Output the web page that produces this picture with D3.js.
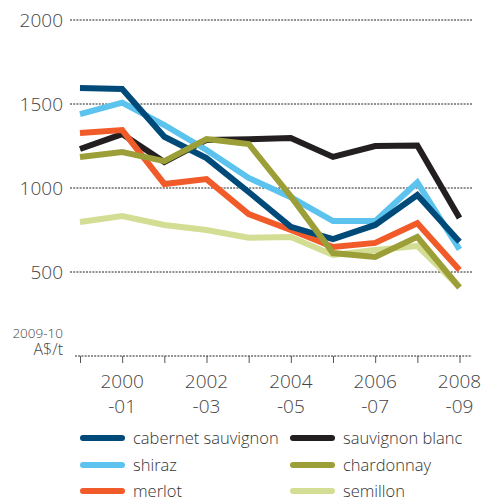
<!DOCTYPE html>
<html><head><meta charset="utf-8">
<script src="https://cdn.jsdelivr.net/npm/d3@7"></script>
<style>body{margin:0;background:#fff}svg{display:block}text{font-family:"Open Sans",sans-serif;font-weight:300;}</style>
</head><body>
<svg id="c" width="484" height="501"></svg>
<script>
const years = ["1999-00","2000-01","2001-02","2002-03","2003-04","2004-05","2005-06","2006-07","2007-08","2008-09"];
const xTickLabels = [["2000","-01"],["2002","-03"],["2004","-05"],["2006","-07"],["2008","-09"]];
const yTicks = [500,1000,1500,2000];
const cabernet = [1595,1589,1305,1178,976,769,696,780,958,680];
const shiraz = [1440,1508,1375,1226,1060,945,803,803,1033,635];
const merlot = [1327,1345,1024,1053,845,750,649,673,790,512];
const sauvBlanc = [1232,1321,1155,1286,1290,1297,1185,1250,1253,821];
const chardonnay = [1184,1214,1160,1291,1262,950,613,589,709,408];
const semillon = [798,833,780,750,704,708,601,631,655,410];
const seriesNames = ["cabernet sauvignon","shiraz","merlot","sauvignon blanc","chardonnay","semillon"];
const seriesValues = [cabernet,shiraz,merlot,sauvBlanc,chardonnay,semillon];
const colors = ["#004a7a","#5bc3ee","#f15a29","#231f20","#9c9f38","#d4dd94"];
const drawOrder = [5,3,2,1,0,4];

const svg = d3.select("#c");
const x = d3.scalePoint().domain(years).range([80,459.5]);
const y = d3.scaleLinear().domain([0,2000]).range([356,20]);

// gridlines
svg.append("g").selectAll("line").data(yTicks).join("line")
  .attr("x1",70).attr("x2",473).attr("y1",d=>y(d)).attr("y2",d=>y(d))
  .attr("stroke","#222").attr("stroke-width",1).attr("stroke-dasharray","2,1.2");
// y labels
svg.append("g").selectAll("text").data(yTicks).join("text")
  .attr("x",63).attr("y",d=>y(d)).attr("dy","0.36em").attr("text-anchor","end")
  .attr("font-size",19).attr("fill","#444").text(d=>d);

// bottom axis
const xAxis = d3.axisBottom(x).tickSize(7).tickFormat("");
const gx = svg.append("g").attr("transform","translate(0,356)").call(xAxis);
gx.select(".domain").remove();
gx.selectAll(".tick line").attr("stroke","#555").attr("stroke-width",1);
svg.append("line").attr("x1",75).attr("x2",472).attr("y1",356).attr("y2",356)
  .attr("stroke","#222").attr("stroke-width",1).attr("stroke-dasharray","2,1.2");

const labYears = years.filter((d,i)=>i%2===1);
const xl = svg.append("g").selectAll("text").data(labYears).join("text")
  .attr("text-anchor","middle").attr("font-size",19).attr("fill","#444");
xl.append("tspan").attr("x",d=>x(d)).attr("y",388).text((d,i)=>xTickLabels[i][0]);
xl.append("tspan").attr("x",d=>x(d)).attr("y",413).text((d,i)=>xTickLabels[i][1]);

// unit label
svg.append("text").attr("x",63).attr("y",338).attr("text-anchor","end").attr("font-size",13.5).attr("fill","#444").text("2009-10");
svg.append("text").attr("x",63).attr("y",355).attr("text-anchor","end").attr("font-size",16).attr("fill","#444").text("A$/t");

// lines
const line = d3.line().x((d,i)=>x(years[i])).y(d=>y(d));
svg.append("g").selectAll("path").data(drawOrder).join("path")
  .attr("d",k=>line(seriesValues[k])).attr("fill","none")
  .attr("stroke",k=>colors[k]).attr("stroke-width",6).attr("stroke-linejoin","miter").attr("stroke-miterlimit",3);

// legend
const lg = svg.append("g").selectAll("g").data(seriesNames).join("g")
  .attr("transform",(d,i)=>`translate(${i<3?83:293},${[438,465,491][i%3]})`);
lg.append("line").attr("x1",0).attr("x2",39).attr("y1",0).attr("y2",0)
  .attr("stroke",(d,i)=>colors[i]).attr("stroke-width",6).attr("stroke-linecap","round");
lg.append("text").attr("x",50).attr("y",0).attr("dy","0.35em").attr("font-size",16.5).attr("fill","#333").text(d=>d);
</script>
</body></html>
